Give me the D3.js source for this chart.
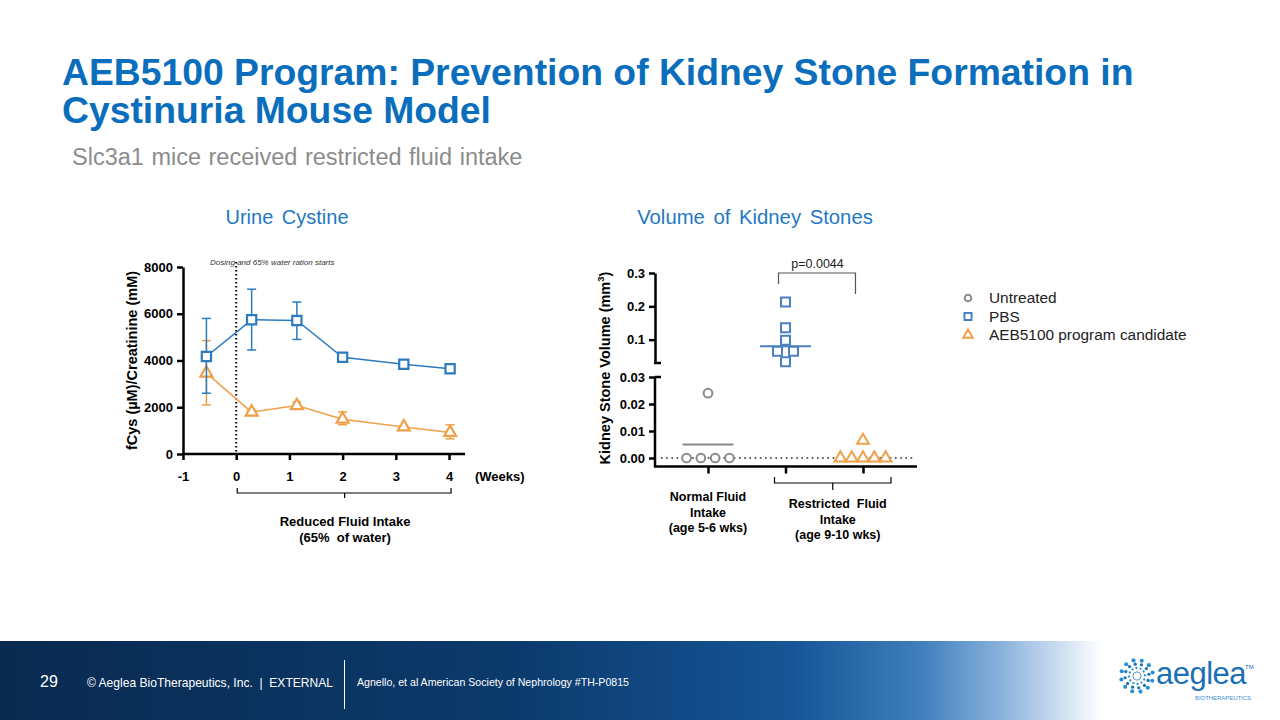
<!DOCTYPE html>
<html><head><meta charset="utf-8">
<script src="https://cdn.jsdelivr.net/npm/d3@7"></script>
<style>
body{margin:0;background:#fff}
svg{display:block}
text{font-family:"Liberation Sans",Arial,sans-serif}
</style>
</head><body>
<svg id="c" width="1280" height="720"></svg>
<script>
// ---------- DATA ----------
// Urine cystine (left chart)
const weeks      = [-0.56, 0.29, 1.14, 2.0, 3.15, 4.02];
const pbsMean    = [4170, 5740, 5710, 4140, 3840, 3650];
const pbsLow     = [2600, 4450, 4900, 4100, 3800, 3610];
const pbsHigh    = [5800, 7050, 6500, 4180, 3880, 3690];
const aebMean    = [3460, 1790, 2070, 1490, 1160, 920];
const aebLow     = [2100, 1720, 1930, 1250, 1110, 650];
const aebHigh    = [4850, 1860, 2230, 1800, 1210, 1250];
const yTicksLeft = [0, 2000, 4000, 6000, 8000];
const xTicksLeft = [-1, 0, 1, 2, 3, 4];

// Kidney stone volume (right chart)
const groups      = ["Untreated", "PBS", "AEB5100 program candidate"];
const untreated   = [0, 0, 0, 0, 0.024];
const pbsVol      = [0.213, 0.136, 0.098, 0.065, 0.065, 0.034];
const aebVol      = [0, 0, 0, 0, 0, 0.0065];
const centerLines = [0.005, 0.08, null];
const upperTicks  = [0.1, 0.2, 0.3];
const lowerTicks  = [0, 0.01, 0.02, 0.03];
const pValue      = "p=0.0044";

// ---------- STYLE ----------
const BLUE = "#2c7bbf", ORANGE = "#f0a048", GRAY = "#8a8a8a", TITLE = "#0a6ebd";
const PBS_BLUE = "#4a80c0";
const svg = d3.select("#c");

// ---------- HEADER ----------
svg.append("text").attr("x", 62).attr("y", 85).attr("fill", TITLE)
  .attr("font-size", 37.3).attr("font-weight", "bold")
  .text("AEB5100 Program: Prevention of Kidney Stone Formation in");
svg.append("text").attr("x", 62).attr("y", 123).attr("fill", TITLE)
  .attr("font-size", 37.3).attr("font-weight", "bold")
  .text("Cystinuria Mouse Model");
svg.append("text").attr("x", 72).attr("y", 165).attr("fill", "#8c8c8c")
  .attr("font-size", 23.5).attr("word-spacing", 1)
  .text("Slc3a1 mice received restricted fluid intake");

// chart titles
svg.append("text").attr("x", 287).attr("y", 224).attr("text-anchor", "middle")
  .attr("fill", "#1f78c4").attr("font-size", 20).attr("word-spacing", 3).text("Urine Cystine");
svg.append("text").attr("x", 755).attr("y", 224).attr("text-anchor", "middle")
  .attr("fill", "#1f78c4").attr("font-size", 20.3).attr("word-spacing", 3).text("Volume of Kidney Stones");

// ---------- LEFT CHART ----------
const xL = d3.scaleLinear().domain([-1, 4.3]).range([183, 465]);
const yL = d3.scaleLinear().domain([0, 8000]).range([454, 267]);

function styleAxis(g, fs) {
  g.selectAll(".domain").attr("stroke", "#000").attr("stroke-width", 2.5);
  g.selectAll(".tick line").attr("stroke", "#000").attr("stroke-width", 2.5);
  g.selectAll(".tick text").attr("fill", "#000").attr("font-size", fs)
    .attr("font-weight", "bold").attr("font-family", '"Liberation Sans",Arial,sans-serif');
}

const gyL = svg.append("g").attr("transform", `translate(${xL(-1)},0)`)
  .call(d3.axisLeft(yL).tickValues(yTicksLeft).tickSize(6).tickSizeOuter(0).tickPadding(4).tickFormat(d => String(d)));
styleAxis(gyL, 13);
const gxL = svg.append("g").attr("transform", `translate(0,${yL(0)})`)
  .call(d3.axisBottom(xL).tickValues(xTicksLeft).tickSize(6).tickSizeOuter(0).tickPadding(12).tickFormat(d => String(d)));
styleAxis(gxL, 13);
gxL.select(".domain").attr("d", `M${xL(-1)},0H${xL(4.3)}`);

// y-axis label
svg.append("text").attr("transform", `translate(137,${(yL(0)+yL(8000))/2}) rotate(-90)`)
  .attr("text-anchor", "middle").attr("font-size", 14.5).attr("font-weight", "bold").attr("fill", "#000")
  .text("fCys (µM)/Creatinine (mM)");

// dosing line
svg.append("line").attr("x1", xL(0)).attr("x2", xL(0)).attr("y1", 262).attr("y2", yL(0))
  .attr("stroke", "#000").attr("stroke-width", 2).attr("stroke-dasharray", "1.5,2.5");
svg.append("text").attr("x", 210).attr("y", 265).attr("font-size", 8).attr("font-style", "italic")
  .attr("fill", "#333").text("Dosing and 65% water ration starts");

// (Weeks)
svg.append("text").attr("x", 475).attr("y", 481).attr("font-size", 13).attr("font-weight", "bold").text("(Weeks)");

// bracket
svg.append("path").attr("d", `M${xL(0)+1},488V493H${xL(4)+2}V488M${(xL(0)+xL(4))/2+2},493V498`)
  .attr("fill", "none").attr("stroke", "#000").attr("stroke-width", 1.2);
svg.append("text").attr("x", 345).attr("y", 526).attr("text-anchor", "middle").attr("font-size", 13)
  .attr("font-weight", "bold").text("Reduced Fluid Intake");
svg.append("text").attr("x", 345).attr("y", 542).attr("text-anchor", "middle").attr("font-size", 13)
  .attr("font-weight", "bold").attr("xml:space", "preserve").text("(65%  of water)");

function drawSeries(mean, low, high, color, symType, symSize) {
  const pts = weeks.map((w, i) => ({w, m: mean[i], lo: low[i], hi: high[i]}));
  const g = svg.append("g");
  g.append("path").datum(pts)
    .attr("d", d3.line().x(d => xL(d.w)).y(d => yL(d.m)))
    .attr("fill", "none").attr("stroke", color).attr("stroke-width", 1.5);
  const eb = g.selectAll(".eb").data(pts).enter().append("g");
  eb.append("line").attr("x1", d => xL(d.w)).attr("x2", d => xL(d.w))
    .attr("y1", d => yL(d.lo)).attr("y2", d => yL(d.hi)).attr("stroke", color).attr("stroke-width", 1.5);
  eb.append("line").attr("x1", d => xL(d.w)-4.5).attr("x2", d => xL(d.w)+4.5)
    .attr("y1", d => yL(d.lo)).attr("y2", d => yL(d.lo)).attr("stroke", color).attr("stroke-width", 1.5);
  eb.append("line").attr("x1", d => xL(d.w)-4.5).attr("x2", d => xL(d.w)+4.5)
    .attr("y1", d => yL(d.hi)).attr("y2", d => yL(d.hi)).attr("stroke", color).attr("stroke-width", 1.5);
  g.selectAll(".pt").data(pts).enter().append("path")
    .attr("transform", d => `translate(${xL(d.w)},${yL(d.m)})`)
    .attr("d", d3.symbol().type(symType).size(symSize))
    .attr("fill", "#fff").attr("stroke", color).attr("stroke-width", 2.2);
}
drawSeries(aebMean, aebLow, aebHigh, ORANGE, d3.symbolTriangle, 62);
drawSeries(pbsMean, pbsLow, pbsHigh, BLUE, d3.symbolSquare, 85);

// ---------- RIGHT CHART ----------
const AX = 655;
const yU = d3.scaleLinear().domain([0.03, 0.3]).range([363, 273]);
const yLo = d3.scaleLinear().domain([0, 0.03]).range([458, 377]);
const xR = d3.scalePoint().domain(groups).range([708, 863]);
const yVal = v => v >= 0.03 ? yU(v) : yLo(v);

const gU = svg.append("g").attr("transform", `translate(${AX},0)`)
  .call(d3.axisLeft(yU).tickValues(upperTicks).tickSize(6).tickSizeOuter(0).tickPadding(4).tickFormat(d3.format(".1f")));
styleAxis(gU, 13);
const gLo = svg.append("g").attr("transform", `translate(${AX},0)`)
  .call(d3.axisLeft(yLo).tickValues(lowerTicks).tickSize(6).tickSizeOuter(0).tickPadding(4).tickFormat(d3.format(".2f")));
styleAxis(gLo, 13);
gLo.select(".domain").attr("d", `M0,${yLo(0.03)}V467`);
// break stubs
svg.append("line").attr("x1", AX-1).attr("x2", AX+6).attr("y1", yU(0.03)).attr("y2", yU(0.03)).attr("stroke", "#000").attr("stroke-width", 2.5);
svg.append("line").attr("x1", AX).attr("x2", AX+6).attr("y1", yLo(0.03)).attr("y2", yLo(0.03)).attr("stroke", "#000").attr("stroke-width", 2.5);

// x axis
const gxR = svg.append("g").attr("transform", "translate(0,466.5)")
  .call(d3.axisBottom(xR).tickSize(7).tickSizeOuter(0).tickFormat(""));
styleAxis(gxR, 12);
gxR.select(".domain").attr("d", `M${AX-1},0H917`);

// zero dotted line
svg.append("line").attr("x1", 661).attr("x2", 913).attr("y1", yLo(0)).attr("y2", yLo(0))
  .attr("stroke", "#222").attr("stroke-width", 1.6).attr("stroke-dasharray", "1.6,3.6");

// y label
const yl = svg.append("text").attr("transform", `translate(610,368) rotate(-90)`)
  .attr("text-anchor", "middle").attr("font-size", 14.5).attr("font-weight", "bold").attr("fill", "#000");
yl.append("tspan").text("Kidney Stone Volume (mm");
yl.append("tspan").attr("font-size", 9.5).attr("dy", -6).text("3");
yl.append("tspan").attr("dy", 6).text(")");

// dodge helper
function dodge(vals, spacing) {
  const counts = d3.rollup(vals, v => v.length, v => v);
  const seen = new Map();
  return vals.map(v => {
    const n = counts.get(v), k = seen.get(v) || 0; seen.set(v, k + 1);
    return {v, off: (k - (n - 1) / 2) * spacing};
  });
}
const groupData = [
  {g: groups[0], vals: untreated, spacing: 14.3, color: GRAY, sym: d3.symbolCircle, size: 60},
  {g: groups[1], vals: pbsVol, spacing: 16, color: PBS_BLUE, sym: d3.symbolSquare, size: 80},
  {g: groups[2], vals: aebVol, spacing: 11.3, color: ORANGE, sym: d3.symbolTriangle, size: 60}
];
// center lines
groupData.forEach((gd, i) => {
  if (centerLines[i] == null) return;
  svg.append("line").attr("x1", xR(gd.g) - 25.5).attr("x2", xR(gd.g) + 25.5)
    .attr("y1", yVal(centerLines[i])).attr("y2", yVal(centerLines[i]))
    .attr("stroke", i === 0 ? "#8c8c8c" : PBS_BLUE).attr("stroke-width", 2);
});
groupData.forEach(gd => {
  const pts = dodge(gd.vals, gd.spacing);
  svg.append("g").selectAll("path").data(pts).enter().append("path")
    .attr("transform", d => `translate(${xR(gd.g) + d.off},${yVal(d.v)})`)
    .attr("d", d3.symbol().type(gd.sym).size(gd.size))
    .attr("fill", "#fff").attr("stroke", gd.color).attr("stroke-width", 2);
});

// p-value bracket
svg.append("path").attr("d", `M${xR(groups[1])-7},284V273H${xR(groups[1])+70}V294`)
  .attr("fill", "none").attr("stroke", "#555").attr("stroke-width", 1.2);
svg.append("text").attr("x", xR(groups[1]) + 32).attr("y", 268).attr("text-anchor", "middle")
  .attr("font-size", 12.5).attr("fill", "#222").text(pValue);

// restricted bracket
const bl = xR(groups[1]) - 11, br = xR(groups[2]) + 28, bm = (bl + br) / 2;
svg.append("path").attr("d", `M${bl},477V483H${br}V477M${bm},483V490`)
  .attr("fill", "none").attr("stroke", "#000").attr("stroke-width", 1.2);

const lab1 = ["Normal Fluid", "Intake", "(age 5-6 wks)"];
const lab2 = ["Restricted  Fluid", "Intake", "(age 9-10 wks)"];
lab1.forEach((t, i) => svg.append("text").attr("x", xR(groups[0])).attr("y", 501 + i * 15.5)
  .attr("text-anchor", "middle").attr("font-size", 12.5).attr("font-weight", "bold")
  .attr("xml:space", "preserve").text(t));
lab2.forEach((t, i) => svg.append("text").attr("x", bm + 5).attr("y", 508 + i * 15.5)
  .attr("text-anchor", "middle").attr("font-size", 12.5).attr("font-weight", "bold")
  .attr("xml:space", "preserve").text(t));

// legend
const legItems = [
  {label: groups[0], color: GRAY, sym: d3.symbolCircle, size: 34},
  {label: groups[1], color: PBS_BLUE, sym: d3.symbolSquare, size: 50},
  {label: groups[2], color: ORANGE, sym: d3.symbolTriangle, size: 38}
];
legItems.forEach((d, i) => {
  const y = 298 + i * 18.5;
  svg.append("path").attr("transform", `translate(968,${y})`)
    .attr("d", d3.symbol().type(d.sym).size(d.size))
    .attr("fill", "#fff").attr("stroke", d.color).attr("stroke-width", 2);
  svg.append("text").attr("x", 989).attr("y", y + 5).attr("font-size", 15.4).attr("fill", "#222").text(d.label);
});

// ---------- FOOTER ----------
const defs = svg.append("defs");
const grad = defs.append("linearGradient").attr("id", "fg").attr("x1", "0").attr("x2", "1").attr("y1", "0").attr("y2", "0");
[[0, "#0a2a50"], [0.4, "#0b3a6c"], [0.62, "#165596"], [0.72, "#3f7fbd"], [0.78, "#86b0da"], [0.83, "#cfe0f1"], [0.86, "#ffffff"], [1, "#ffffff"]]
  .forEach(s => grad.append("stop").attr("offset", s[0]).attr("stop-color", s[1]));
svg.append("rect").attr("x", 0).attr("y", 641).attr("width", 1280).attr("height", 79).attr("fill", "url(#fg)");
svg.append("text").attr("x", 40).attr("y", 687).attr("fill", "#fff").attr("font-size", 16).text("29");
svg.append("text").attr("x", 87).attr("y", 687).attr("fill", "#fff").attr("font-size", 13)
  .attr("font-family", '"Liberation Sans Narrow","Liberation Sans",Arial,sans-serif')
  .attr("textLength", 246).attr("lengthAdjust", "spacingAndGlyphs")
  .attr("xml:space", "preserve").text("© Aeglea BioTherapeutics, Inc.  |  EXTERNAL");
svg.append("line").attr("x1", 344.5).attr("x2", 344.5).attr("y1", 660).attr("y2", 709).attr("stroke", "#fff").attr("stroke-width", 1);
svg.append("text").attr("x", 357).attr("y", 686).attr("fill", "#fff").attr("font-size", 11.5)
  .attr("font-family", '"Liberation Sans Narrow","Liberation Sans",Arial,sans-serif')
  .attr("textLength", 272).attr("lengthAdjust", "spacingAndGlyphs")
  .text("Agnello, et al American Society of Nephrology #TH-P0815");

// logo
const logo = svg.append("g").attr("transform", "translate(1137,676)");
for (let a = 0; a < 12; a++) {
  for (let k = 0; k < 4; k++) {
    const r = 4 + k * 4;
    const ang = (a / 12) * 2 * Math.PI + k * 0.45;
    logo.append("circle").attr("cx", r * Math.cos(ang)).attr("cy", r * Math.sin(ang))
      .attr("r", 0.7 + k * 0.45).attr("fill", k % 2 ? "#2a8fd0" : "#1b6fb5");
  }
}
svg.append("text").attr("x", 1156).attr("y", 684).attr("fill", "#1b6fb5").attr("font-size", 31)
  .attr("font-family", "Lato, 'Open Sans', sans-serif").attr("letter-spacing", -0.5).text("aeglea");
svg.append("text").attr("x", 1245).attr("y", 669).attr("fill", "#1b6fb5").attr("font-size", 6).text("TM");
svg.append("text").attr("x", 1195).attr("y", 700).attr("fill", "#3a8fd0").attr("font-size", 6.2)
  .attr("textLength", 56).attr("lengthAdjust", "spacingAndGlyphs").text("BIOTHERAPEUTICS");
</script>
</body></html>
